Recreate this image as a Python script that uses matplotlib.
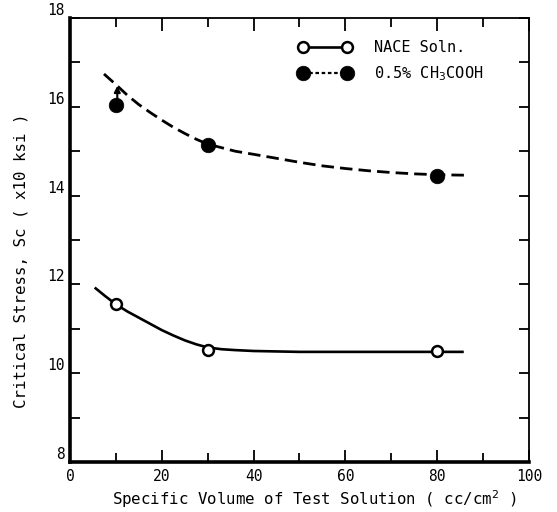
import matplotlib
matplotlib.use("Agg")
import matplotlib.pyplot as plt
from matplotlib.lines import Line2D
from matplotlib.ticker import MultipleLocator

plt.rcParams['font.family'] = ['DejaVu Sans Mono', 'DejaVu Sans']

# measured points
vol = [10, 30, 80]
nace = [11.55, 10.52, 10.50]
acid = [16.04, 15.13, 14.45]

# fitted curves as drawn in the figure
nace_cx = [5.6, 7.5, 10, 12.5, 15, 17.5, 20, 22.5, 25, 27.5, 30, 33, 36, 40, 45, 50, 60, 70, 80, 85.5]
nace_cy = [11.91, 11.75, 11.55, 11.39, 11.25, 11.11, 10.97, 10.85, 10.74, 10.65, 10.58, 10.54,
           10.52, 10.50, 10.49, 10.48, 10.48, 10.48, 10.48, 10.48]
acid_cx = [7.4, 10, 12.5, 15, 17.5, 20, 22.5, 25, 27.5, 30, 33, 36, 40, 45, 50, 55, 60, 65, 70, 75, 80, 86]
acid_cy = [16.74, 16.50, 16.26, 16.05, 15.87, 15.70, 15.54, 15.40, 15.27, 15.16, 15.08, 15.00,
           14.93, 14.84, 14.75, 14.67, 14.61, 14.56, 14.52, 14.49, 14.47, 14.46]

# arrow on the first acid point (value is a lower bound)
arrow_x = 10.3
arrow_y = [16.16, 16.47]

xticks = [0, 20, 40, 60, 80, 100]
yticks = [8, 10, 12, 14, 16, 18]

fig = plt.figure(figsize=(5.57, 5.12), dpi=100)
ax = fig.add_axes([0.1257, 0.0977, 0.8240, 0.8671])

ax.plot(nace_cx, nace_cy, color='black', lw=1.9, zorder=2)
ax.plot(vol, nace, linestyle='none', marker='o', ms=7.8, mew=1.8,
        mfc='white', mec='black', zorder=3)

ax.plot(acid_cx, acid_cy, color='black', lw=2.0, dashes=(4.5, 2.2), zorder=2)
ax.plot(vol, acid, linestyle='none', marker='o', ms=10.5, mew=0.5,
        mfc='black', mec='black', zorder=3)

ax.annotate('', xy=(arrow_x, arrow_y[1]), xytext=(arrow_x, arrow_y[0]),
            arrowprops=dict(arrowstyle='-|>,head_length=0.35,head_width=0.18',
                            color='black', lw=1.5, shrinkA=0, shrinkB=0))

ax.set_xlim(0, 100)
ax.set_ylim(8, 18)
ax.set_xticks(xticks)
ax.set_yticks(yticks)
ax.xaxis.set_minor_locator(MultipleLocator(10))
ax.yaxis.set_minor_locator(MultipleLocator(1))

ax.tick_params(which='both', direction='in', top=True, right=True, width=1.3,
               labelsize=10.5)
ax.tick_params(axis='x', which='major', length=9, pad=5)
ax.tick_params(axis='x', which='minor', length=6.5)
ax.tick_params(axis='y', which='both', length=7, pad=4)
for lab in ax.get_yticklabels():
    lab.set_va('bottom')

ax.spines['left'].set_linewidth(2.6)
ax.spines['bottom'].set_linewidth(2.6)
ax.spines['top'].set_linewidth(1.3)
ax.spines['right'].set_linewidth(1.3)

ax.set_xlabel('Specific Volume of Test Solution ( cc/cm$^2$ )', fontsize=11.3)
ax.set_ylabel('Critical Stress, Sc ( x10 ksi )', fontsize=11.3)
ax.xaxis.set_label_coords(0.532, -0.06)
ax.yaxis.set_label_coords(-0.09, 0.453)

h1 = Line2D([], [], color='black', lw=1.9, marker='o', ms=7.8, mew=1.8,
            mfc='white', mec='black')
h2 = Line2D([], [], color='black', lw=1.6, dashes=(1.6, 1.2), marker='o', ms=10.5,
            mew=0.5, mfc='black', mec='black')
ax.legend([h1, h2], ['NACE Soln.', '0.5% CH$_3$COOH'], loc='upper left',
          bbox_to_anchor=(0.497, 0.95), frameon=False, numpoints=2,
          handlelength=3.5, handletextpad=1.45, labelspacing=0.6,
          borderpad=0, borderaxespad=0, fontsize=11)

fig.savefig('out.png', dpi=100)
